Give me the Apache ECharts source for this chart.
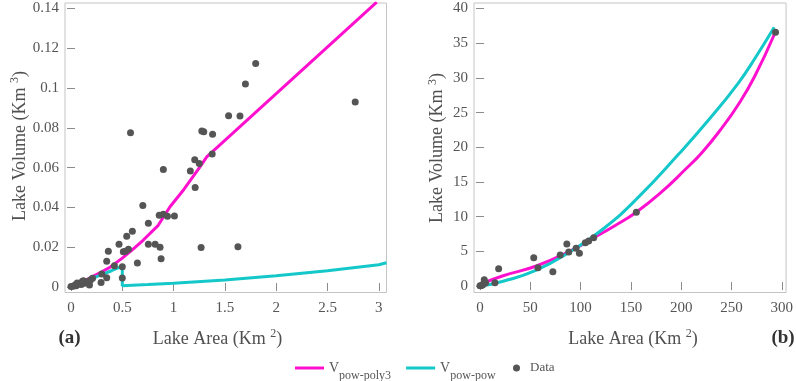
<!DOCTYPE html>
<html><head><meta charset="utf-8">
<script src="https://cdn.jsdelivr.net/npm/echarts@6/dist/echarts.min.js"></script>
<style>html,body{margin:0;padding:0;background:#fff}#c{width:796px;height:381px}</style>
</head><body><div id="c"></div>
<script>
// ---------- (a) small lakes ----------
const leftArea = [0.00,0.02,0.04,0.05,0.07,0.09,0.10,0.12,0.13,0.15,0.17,0.18,0.19,0.21,0.11,0.06,
  0.293,0.30,0.348,0.348,0.364,0.423,0.468,0.50,0.50,0.51,0.53,0.543,0.56,0.58,0.598,0.647,0.70,
  0.754,0.754,0.82,0.86,0.868,0.878,0.90,0.90,0.94,1.008,1.163,1.206,1.21,1.25,1.268,1.275,1.294,
  1.376,1.38,1.536,1.627,1.647,1.70,1.80,2.77];
const leftVolume = [0.0002,0.0004,0.0010,0.0006,0.0014,0.0019,0.0012,0.0032,0.0019,0.0026,0.0022,0.0010,0.0035,0.0044,0.0028,0.0020,
  0.0023,0.0065,0.0046,0.0130,0.0180,0.0107,0.0215,0.0102,0.0045,0.0177,0.0180,0.0255,0.0190,0.0775,0.0280,0.0120,0.0410,
  0.0320,0.0215,0.0215,0.0360,0.0200,0.0142,0.0590,0.0365,0.0355,0.0357,0.0583,0.0640,0.0500,0.0620,0.0198,0.0784,0.0780,
  0.0668,0.0767,0.0860,0.0202,0.0859,0.1020,0.1123,0.0930];
const leftPoly3Area = [0,0.1,0.2,0.3,0.38,0.5,0.6,0.705,0.85,0.965,1.1,1.257,1.323,2.98];
const leftPoly3Vol  = [0,0.0022,0.005,0.0076,0.0099,0.0145,0.0188,0.0236,0.031,0.0403,0.049,0.0604,0.0654,0.1431];
const leftPowArea = [0,0.1,0.2,0.3,0.4,0.5,0.5,0.75,1,1.5,2,2.5,3,3.075];
const leftPowVol  = [0,0.0019,0.0042,0.0062,0.0083,0.0105,0.00065,0.0012,0.0019,0.0035,0.0057,0.0082,0.0112,0.0122];
const leftXTicks = [0,0.5,1,1.5,2,2.5,3];
const leftYTicks = [0,0.02,0.04,0.06,0.08,0.1,0.12,0.14];

// ---------- (b) large lakes ----------
const rightArea = [0,1.5,2.7,3.5,4.2,5.5,14.8,18.5,53.4,57.6,72.4,79.7,86.3,88.2,95.5,98.8,104.7,108,113,155.4,293.8];
const rightVolume = [0.05,0.1,0.2,0.35,0.9,0.5,0.49,2.51,4.1,2.65,2.08,4.48,6.07,4.9,5.44,4.72,6.25,6.5,6.97,10.63,36.57];
const rightPoly3Area = [0,23,56,89,113,134,155,180,204,221,240,257,273,293];
const rightPoly3Vol  = [0.26,1.5,2.9,5.0,6.95,8.7,10.6,13.5,16.8,19.3,22.7,26.2,30.2,36.4];
const rightPowArea = [0,23,56,89,122,156,198,227,257,275,292.5];
const rightPowVol  = [0,0.7,2.3,4.9,8.2,12.6,19.1,23.9,29.3,33.2,37.3];
const rightXTicks = [0,50,100,150,200,250,300];
const rightYTicks = [0,5,10,15,20,25,30,35,40];

const MAG = '#ff10cf', CYA = '#14c8ca', DOT = '#555555';
const FONT = 'Liberation Serif';
const zip = (a, b) => a.map((v, i) => [v, b[i]]);
const fmt = v => String(+(+v).toFixed(6));

function axis(grid, min, max, ticks, pos, labels) {
  return {
    type: 'value', gridIndex: grid, min: min, max: max, position: pos,
    axisLine: { show: false }, splitLine: { show: false },
    axisTick: { show: true, inside: true, length: 4, customValues: ticks, lineStyle: { color: '#8a8a8a', width: 1 } },
    axisLabel: { show: labels, customValues: ticks, formatter: fmt, color: '#555', fontFamily: FONT, fontSize: 15,
      margin: (pos === 'bottom') ? 8 : 6, showMinLabel: true, showMaxLabel: true }
  };
}

const titleRich = {
  t: { fontSize: 18, fontFamily: FONT, fill: '#505050', color: '#505050', lineHeight: 20, verticalAlign: 'bottom' },
  p: { fontSize: 12, fontFamily: FONT, fill: '#505050', color: '#505050', lineHeight: 10, verticalAlign: 'top' }
};

const chart = echarts.init(document.getElementById('c'), null, { renderer: 'canvas' });
chart.setOption({
  animation: false,
  backgroundColor: '#ffffff',
  grid: [
    { left: 65, right: 409.5, top: 3, bottom: 88.5, show: true, borderColor: '#c4c4c4', borderWidth: 1 },
    { left: 474, right: 7.7, top: 3, bottom: 88.5, show: true, borderColor: '#c4c4c4', borderWidth: 1 }
  ],
  xAxis: [
    axis(0, -0.0585, 3.075, leftXTicks, 'bottom', true),
    axis(0, -0.0585, 3.075, leftXTicks, 'top', false),
    axis(1, -6, 304.3, rightXTicks, 'bottom', true),
    axis(1, -6, 304.3, rightXTicks, 'top', false)
  ],
  yAxis: [
    axis(0, -0.00276, 0.1427, leftYTicks, 'left', true),
    axis(0, -0.00276, 0.1427, leftYTicks, 'right', false),
    axis(1, -0.92, 40.8, rightYTicks, 'left', true),
    axis(1, -0.92, 40.8, rightYTicks, 'right', false)
  ],
  legend: [
    { data: [{ name: 'poly3', icon: 'rect' }, { name: 'pow', icon: 'rect' }], left: 295, top: 354, padding: 0,
      itemWidth: 29, itemHeight: 3, itemGap: 15,
      formatter: n => n === 'poly3' ? '{v|V}{s|pow-poly3}' : '{v|V}{s|pow-pow}',
      textStyle: { color: '#555', fontFamily: FONT,
        rich: { v: { fontSize: 14, fontFamily: FONT, color: '#555', lineHeight: 14, verticalAlign: 'middle' },
                s: { fontSize: 12, fontFamily: FONT, color: '#555', lineHeight: 12, padding: [16, 0, 0, 0] } } } },
    { data: ['Data'], left: 513, top: 361.5, padding: 0, itemWidth: 7, itemHeight: 7,
      textStyle: { color: '#555', fontFamily: FONT, fontSize: 13, padding: [0, 0, 0, 5] } }
  ],
  graphic: [
    { type: 'text', x: 217.5, y: 338, style: { text: '{t|Lake Area (Km }{p|2}{t|)}', align: 'center', verticalAlign: 'middle', rich: titleRich } },
    { type: 'text', x: 633, y: 338, style: { text: '{t|Lake Area (Km }{p|2}{t|)}', align: 'center', verticalAlign: 'middle', rich: titleRich } },
    { type: 'text', x: 19, y: 146, rotation: Math.PI / 2, style: { text: '{t|Lake Volume (Km }{p|3}{t|)}', align: 'center', verticalAlign: 'middle', rich: titleRich } },
    { type: 'text', x: 436.5, y: 148, rotation: Math.PI / 2, style: { text: '{t|Lake Volume (Km }{p|3}{t|)}', align: 'center', verticalAlign: 'middle', rich: titleRich } },
    { type: 'text', x: 69.5, y: 338, style: { text: '(a)', font: 'bold 19px "Liberation Serif"', fill: '#333', align: 'center', verticalAlign: 'middle' } },
    { type: 'text', x: 783, y: 338, style: { text: '(b)', font: 'bold 19px "Liberation Serif"', fill: '#333', align: 'center', verticalAlign: 'middle' } }
  ],
  series: [
    { name: 'poly3', type: 'line', xAxisIndex: 0, yAxisIndex: 0, data: zip(leftPoly3Area, leftPoly3Vol), symbol: 'none', smooth: false,
      lineStyle: { color: MAG, width: 3 }, itemStyle: { color: MAG }, z: 2 },
    { name: 'pow', type: 'line', xAxisIndex: 0, yAxisIndex: 0, data: zip(leftPowArea, leftPowVol), symbol: 'none', smooth: false,
      lineStyle: { color: CYA, width: 3 }, itemStyle: { color: CYA }, z: 2 },
    { name: 'poly3', type: 'line', xAxisIndex: 2, yAxisIndex: 2, data: zip(rightPoly3Area, rightPoly3Vol), symbol: 'none', smooth: 0.5,
      lineStyle: { color: MAG, width: 3 }, itemStyle: { color: MAG }, z: 2 },
    { name: 'pow', type: 'line', xAxisIndex: 2, yAxisIndex: 2, data: zip(rightPowArea, rightPowVol), symbol: 'none', smooth: 0.5,
      lineStyle: { color: CYA, width: 3 }, itemStyle: { color: CYA }, z: 2 },
    { name: 'Data', type: 'scatter', xAxisIndex: 0, yAxisIndex: 0, data: zip(leftArea, leftVolume), symbolSize: 7,
      itemStyle: { color: DOT, opacity: 1 }, z: 3 },
    { name: 'Data', type: 'scatter', xAxisIndex: 2, yAxisIndex: 2, data: zip(rightArea, rightVolume), symbolSize: 7,
      itemStyle: { color: DOT, opacity: 1 }, z: 3 }
  ]
});
</script></body></html>
